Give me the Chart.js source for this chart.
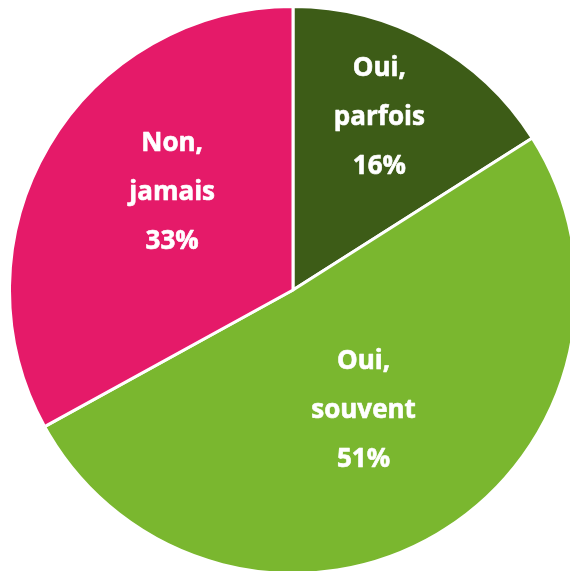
<!DOCTYPE html>
<html>
<head>
<meta charset="utf-8">
<script src="https://cdn.jsdelivr.net/npm/chart.js@4/dist/chart.umd.min.js"></script>
<style>
  html, body { margin: 0; padding: 0; background: #ffffff; overflow: hidden; width: 570px; height: 571px; }
  #wrap { position: absolute; left: 8px; top: 5px; width: 570px; height: 570px; }
</style>
</head>
<body>
<div id="wrap"><canvas id="c" width="570" height="570"></canvas></div>
<script>
const categories = [["Oui,", "parfois"], ["Oui,", "souvent"], ["Non,", "jamais"]];
const values = [16, 51, 33];
const percentLabels = ["16%", "51%", "33%"];
const sliceColors = ["#3d5c17", "#7ab72f", "#e51a69"];

const sliceLabelPlugin = {
  id: 'sliceLabels',
  afterDatasetsDraw(chart, args, opts) {
    const ctx = chart.ctx;
    const meta = chart.getDatasetMeta(0);
    ctx.save();
    ctx.fillStyle = opts.color;
    ctx.strokeStyle = opts.color;
    ctx.lineWidth = opts.thicken;
    ctx.lineJoin = 'round';
    ctx.font = opts.font;
    ctx.textAlign = 'center';
    ctx.textBaseline = 'alphabetic';
    meta.data.forEach((arc, i) => {
      const p = arc.getProps(['x', 'y', 'startAngle', 'endAngle', 'outerRadius'], true);
      const place = opts.placement[i];
      const a = (p.startAngle + p.endAngle) / 2 + place.da * Math.PI / 180;
      const r = p.outerRadius * place.frac;
      const cx = p.x + Math.cos(a) * r;
      const cy = p.y + Math.sin(a) * r;
      const lines = categories[i].concat([percentLabels[i]]);
      const n = lines.length;
      lines.forEach((t, k) => {
        const by = cy + opts.capHalf + (k - (n - 1) / 2) * opts.lineHeight;
        ctx.fillText(t, cx, by);
        if (opts.thicken > 0) ctx.strokeText(t, cx, by);
      });
    });
    ctx.restore();
  }
};

new Chart(document.getElementById('c'), {
  type: 'pie',
  data: {
    labels: categories.map(c => c.join(' ')),
    datasets: [{
      data: values,
      backgroundColor: sliceColors,
      borderColor: '#ffffff',
      borderWidth: 3
    }]
  },
  options: {
    responsive: false,
    animation: false,
    layout: { padding: 0 },
    plugins: {
      legend: { display: false },
      tooltip: { enabled: false },
      sliceLabels: {
        color: '#ffffff',
        font: 'bold 26px "Open Sans"',
        thicken: 0.6,
        lineHeight: 49,
        capHalf: 9,
        placement: [
          { frac: 0.685, da: -2.4 },
          { frac: 0.489, da: 0 },
          { frac: 0.551, da: 8.7 }
        ]
      }
    }
  },
  plugins: [sliceLabelPlugin]
});
</script>
</body>
</html>
